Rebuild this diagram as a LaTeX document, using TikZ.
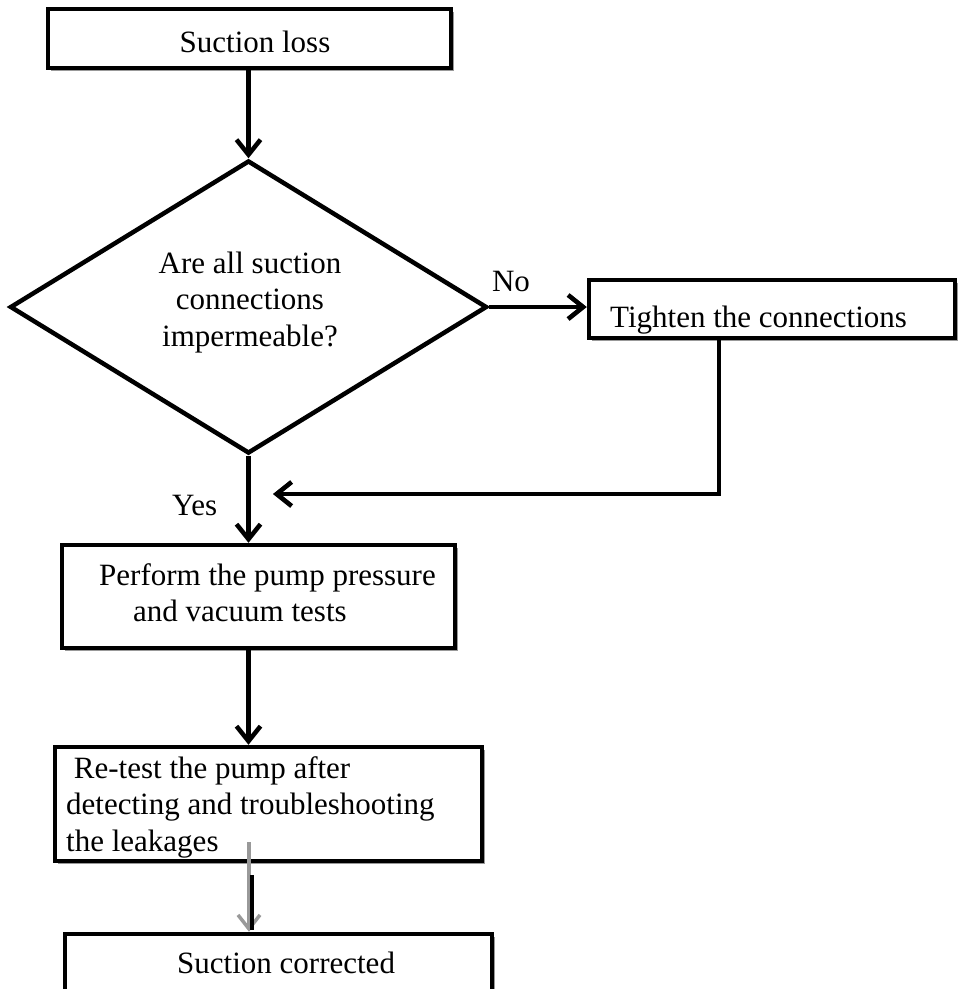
\documentclass[tikz,border=0pt]{standalone}
\usepackage{fontspec}
\setmainfont{Liberation Serif}
\usetikzlibrary{arrows.meta,shapes.geometric,shadows}
\begin{document}
\begin{tikzpicture}[x=1pt,y=-1pt,
  box/.style={draw,line width=4.5pt,fill=white,inner sep=0pt,rectangle,
    drop shadow={shadow xshift=2.5pt,shadow yshift=-2.5pt,fill=black!40,opacity=1}},
  txt/.style={inner sep=0pt,font=\fontsize{31}{36.5}\selectfont},
  arr/.style={line width=4.5pt,-{Straight Barb[length=15pt,width=24pt]}},
  arrsh/.style={arr,draw=black!40,xshift=2pt,yshift=-3pt},
  garr/.style={line width=3.5pt,draw=black!40,-{Straight Barb[length=14pt,width=22pt]}},
  bline/.style={line width=4.5pt}
]
\useasboundingbox[fill=white] (0,0) rectangle (966,989);

% boxes
\node[box,minimum width=403pt,minimum height=59pt] (s) at (249.5,38.5) {};
\node[draw,line width=4.5pt,shape=diamond,inner sep=0pt,
      minimum width=477pt,minimum height=293pt] (q) at (248.5,307) {};
\node[box,minimum width=366pt,minimum height=58pt] (t) at (772,309) {};
\node[box,minimum width=393pt,minimum height=103pt] (p) at (258.5,596.5) {};
\node[box,minimum width=427pt,minimum height=114pt] (rb) at (268.5,804) {};
\node[box,minimum width=427pt,minimum height=80pt] (c) at (278.5,974) {};

% texts
\node[txt,anchor=base] (ts) at (255,52) {Suction loss};
\node[txt,anchor=base] (tq) at (250,273)
  {\begin{tabular}[t]{@{}c@{}}Are all suction\\connections\\impermeable?\end{tabular}};
\node[txt,anchor=base] (no) at (511,291) {No};
\node[txt,anchor=base west] (tt) at (610,327) {Tighten the connections};
\node[txt,anchor=base west] (yes) at (172,515) {Yes};
\node[txt,anchor=base west] (tp) at (99,585)
  {\begin{tabular}[t]{@{}l@{}}Perform the pump pressure\\\hspace{34pt}and vacuum tests\end{tabular}};
\node[txt,anchor=base west] (tr) at (66,778)
  {\begin{tabular}[t]{@{}l@{}}\ Re-test the pump after\\detecting and troubleshooting\\the leakages\end{tabular}};
\node[txt,anchor=base west] (tc) at (177,973) {Suction corrected};

% connectors
\coordinate (r) at (719,494);
\coordinate (rt) at (273,494);
\draw[arr] (s.south -| q.north) -- (q.north);
\draw[arrsh] (q.east) -- (q.east -| t.west);
\draw[arr] (q.east) -- (q.east -| t.west);
\draw[arrsh] (t.south -| r) -- (r) -- (rt);
\draw[arr] (t.south -| r) -- (r) -- (rt);
\draw[arr] (q.south) -- (q.south |- p.north);
\draw[arr] (q.south |- p.south) -- (q.south |- rb.north);
\coordinate (g1) at (249,842);
\coordinate (b1) at (252,875);
\draw[garr] (g1) -- (g1 |- c.north);
\draw[bline] (b1) -- ([yshift=2pt]b1 |- c.north);
\end{tikzpicture}
\end{document}
